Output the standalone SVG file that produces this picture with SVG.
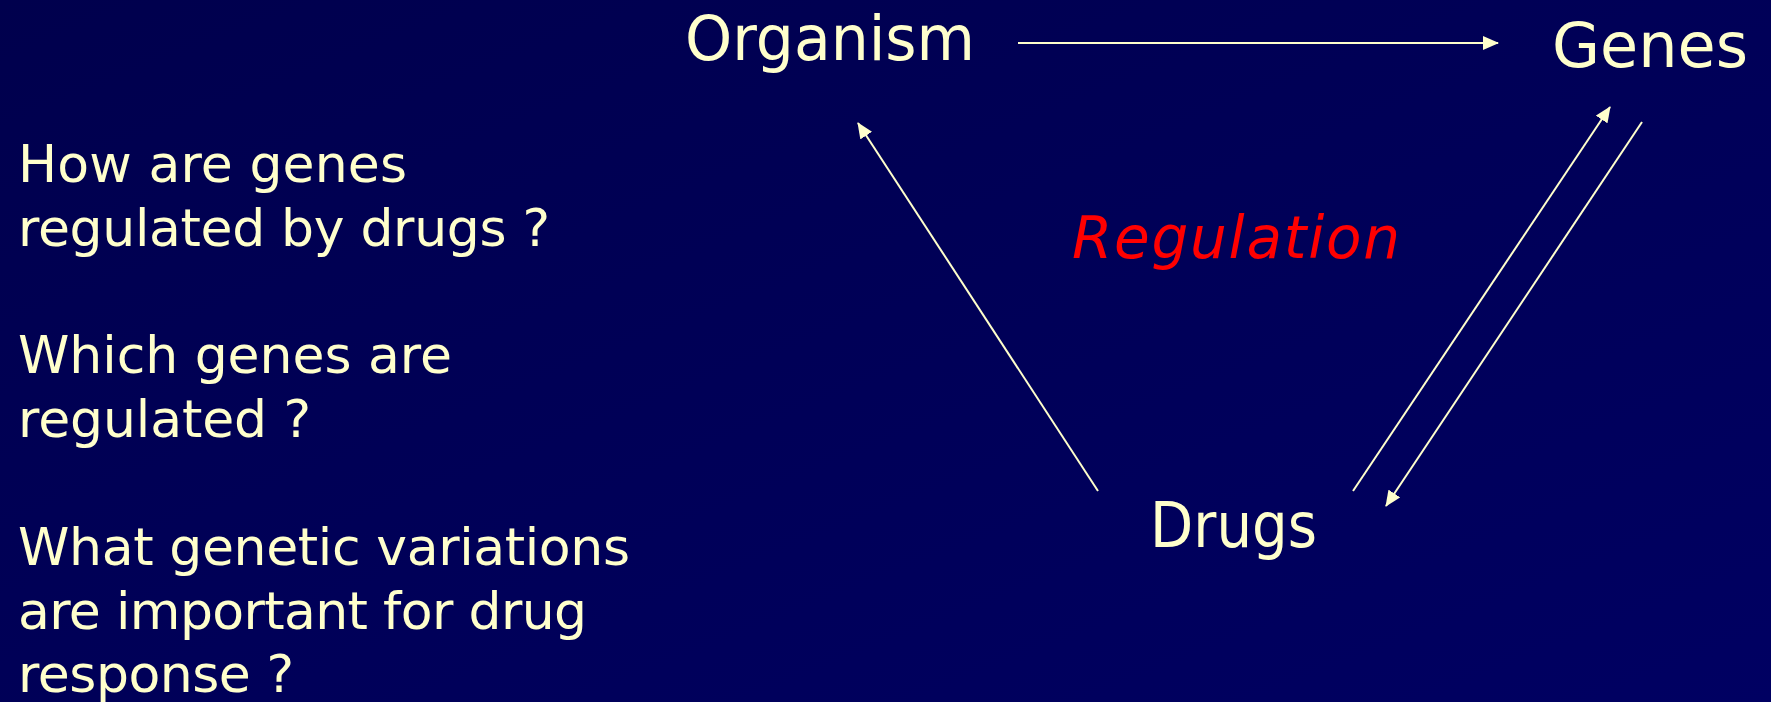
<svg xmlns="http://www.w3.org/2000/svg" width="1771" height="702" viewBox="0 0 1771 702">
<defs>
<linearGradient id="bg" x1="0" y1="0" x2="1" y2="1">
<stop offset="0" stop-color="#00004d"/>
<stop offset="1" stop-color="#000062"/>
</linearGradient>
<marker id="ah" viewBox="0 0 16 14" refX="15" refY="7" markerWidth="16" markerHeight="14" markerUnits="userSpaceOnUse" orient="auto">
<path d="M0,0 L16,7 L0,14 Z" fill="#ffffcc"/>
</marker>
<style>
.node{font-family:"DejaVu Sans","Open Sans",sans-serif;font-size:62px;fill:#ffffcc}
.q{font-family:"DejaVu Sans","Open Sans",sans-serif;font-size:52px;fill:#ffffcc}
.reg{font-family:"DejaVu Sans","Open Sans",sans-serif;font-size:58px;font-style:italic;fill:#ff0000}
.con{stroke:#ffffcc;stroke-width:2;fill:none;marker-end:url(#ah)}
</style>
</defs>
<rect x="0" y="0" width="1771" height="702" fill="url(#bg)"/>
<g id="questions">
<text class="q" x="18" y="182" textLength="389" lengthAdjust="spacing">How are genes</text>
<text class="q" x="18" y="246" textLength="532" lengthAdjust="spacing">regulated by drugs ?</text>
<text class="q" x="18" y="373" textLength="434" lengthAdjust="spacing">Which genes are</text>
<text class="q" x="18" y="437" textLength="293" lengthAdjust="spacing">regulated ?</text>
<text class="q" x="18" y="565" textLength="612" lengthAdjust="spacing">What genetic variations</text>
<text class="q" x="18" y="629" textLength="569" lengthAdjust="spacing">are important for drug</text>
<text class="q" x="18" y="692" textLength="276" lengthAdjust="spacing">response ?</text>
</g>
<g id="organism"><text class="node" x="685" y="60" textLength="290" lengthAdjust="spacingAndGlyphs">Organism</text></g>
<g id="genes"><text class="node" x="1552" y="67" textLength="196" lengthAdjust="spacing">Genes</text></g>
<g id="drugs"><text class="node" x="1150" y="547" textLength="167" lengthAdjust="spacingAndGlyphs">Drugs</text></g>
<g id="regulation"><text class="reg" x="1072" y="258" textLength="328" lengthAdjust="spacing">Regulation</text></g>
<g id="connectors">
<line class="con" x1="1018" y1="43" x2="1498" y2="43"/>
<line class="con" x1="1098" y1="491" x2="858" y2="123"/>
<line class="con" x1="1353" y1="491" x2="1610" y2="107"/>
<line class="con" x1="1642" y1="122" x2="1386" y2="506"/>
</g>
</svg>
